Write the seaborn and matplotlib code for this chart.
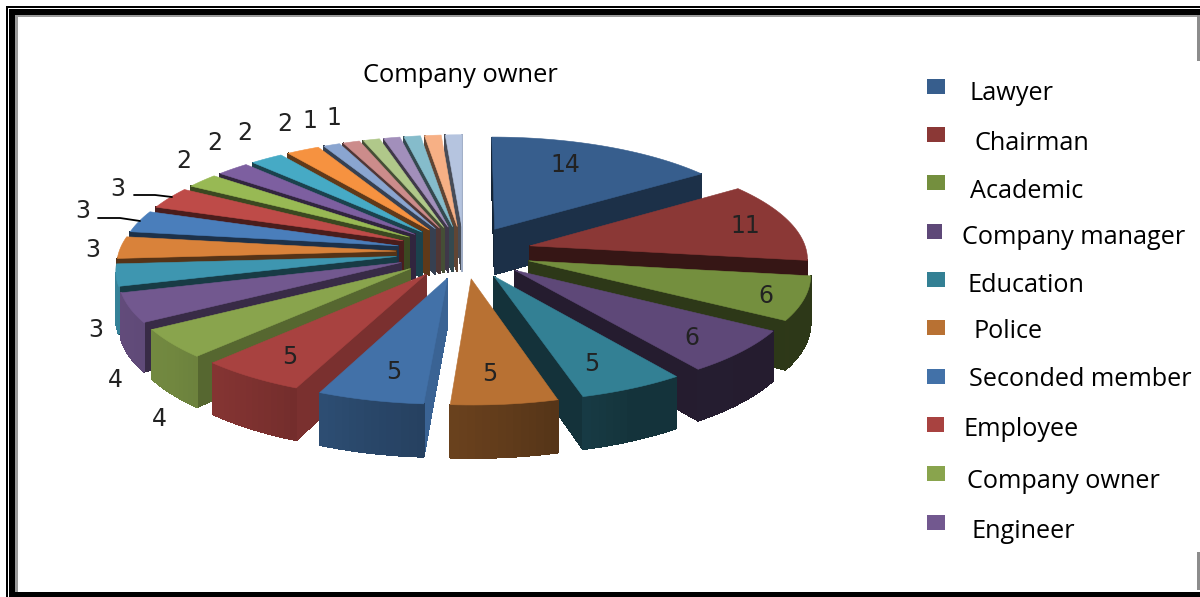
import numpy as np
import matplotlib
matplotlib.use("Agg")
import matplotlib.pyplot as plt
from matplotlib.patches import Polygon, Rectangle
import seaborn as sns

# Occupations of the respondents, clockwise from twelve o'clock
legend_names = ["Lawyer", "Chairman", "Academic", "Company manager", "Education",
                "Police", "Seconded member", "Employee", "Company owner", "Engineer"]
counts = [14, 11, 6, 6, 5, 5, 5, 5, 4, 4, 3, 3, 3, 3, 2, 2, 2, 2, 1, 1, 1, 1, 1, 1, 1]
slice_hex = ["#375e8d", "#8b3836", "#748f3e", "#5e4878", "#338094", "#b87133",
             "#4271a8", "#a84240", "#89a44d", "#72588f", "#3e96b0", "#d9823a",
             "#4a7ebb", "#be4b48", "#98b954", "#7d5fa0", "#46aac5", "#f69240",
             "#8aa5d0", "#cc8c8b", "#b0c88a", "#a28fbb", "#85bccb", "#f7b085", "#b5c4df"]
chart_title = "Company owner"
labelled_slices = 20

# Label anchors, in pixels
label_xy = [(565, 165), (745, 226), (766, 296), (692, 338), (592, 364), (490, 374),
            (394, 372), (290, 357), (159, 419), (115, 380), (96, 330), (93, 250),
            (83, 211), (118, 189), (184, 161), (215, 143), (245, 133), (285, 124),
            (310, 121), (334, 118)]
legend_box_y = [79, 127, 175, 224, 272, 320, 369, 417, 466, 515]
legend_box_w = [18, 18, 18, 15, 18, 18, 18, 17, 18, 18]
legend_text_x = [970, 974, 970, 962, 968, 974, 969, 964, 967, 972]
legend_text_y = [94, 143, 191, 237, 285, 331, 379, 429, 481, 531]

# Projection of the tilted pie onto the page
CX, CY = 464, 252
RX, RY = 277, 106.6
PERSP = 0.1066
EXPLODE = 0.246
HEIGHT = 46

sns.set_theme(style="white")
plt.rcParams["font.family"] = ["Open Sans", "DejaVu Sans"]
palette = sns.color_palette(slice_hex)

fig = plt.figure(figsize=(12, 5.97), dpi=100)
ax = fig.add_axes([0, 0, 1, 1])
ax.set_xlim(0, 1200)
ax.set_ylim(597, 0)
ax.axis("off")


def project(x, y, z=0.0):
    s = 1.0 / (1.0 + PERSP * y)
    return CX + x * RX * s, CY - y * RY * s + z * HEIGHT * s


def shade(color, factor):
    return tuple(c * factor for c in color)


def radial_factor(normal_deg):
    return np.interp(normal_deg % 360, [94, 113, 133, 145, 165, 360],
                     [0.88, 0.73, 0.63, 0.51, 0.39, 0.39])


def outer_factor(phi_deg):
    return np.interp(phi_deg % 360, [110, 155, 175, 195, 214, 230, 247, 290],
                     [0.39, 0.40, 0.53, 0.63, 0.75, 0.82, 0.85, 0.90])


def draw_side(p_a, p_b, color):
    """Draw the vertical quad between two rim points if it faces the viewer."""
    quad = [project(*p_a), project(*p_b), project(*p_b, 1), project(*p_a, 1)]
    xs, ys = zip(*quad)
    area = sum(xs[i] * ys[(i + 1) % 4] - xs[(i + 1) % 4] * ys[i] for i in range(4))
    if area < 0:
        ax.add_patch(Polygon(quad, closed=True, facecolor=color, edgecolor=color,
                             lw=0.6, antialiased=False))


values = np.array(counts, dtype=float)
edges = np.concatenate([[0], np.cumsum(values)]) / values.sum() * 360
mids = (edges[:-1] + edges[1:]) / 2

# Painter's order: slices at the back first
for i in np.argsort(-np.cos(np.radians(mids))):
    start, end, mid = edges[i], edges[i + 1], mids[i]
    ax_x = EXPLODE * np.sin(np.radians(mid))
    ax_y = EXPLODE * np.cos(np.radians(mid))
    apex = (ax_x, ax_y)
    phis = np.linspace(start, end, max(3, int((end - start) / 1.5) + 2))
    rim = [(ax_x + np.sin(np.radians(p)), ax_y + np.cos(np.radians(p))) for p in phis]
    base = palette[i]

    draw_side(apex, rim[0], shade(base, radial_factor(start - 90)))
    draw_side(rim[-1], apex, shade(base, radial_factor(end + 90)))
    for j in range(len(rim) - 1):
        mid_phi = (phis[j] + phis[j + 1]) / 2
        draw_side(rim[j], rim[j + 1], shade(base, outer_factor(mid_phi)))

    top = [project(*apex)] + [project(*p) for p in rim]
    ax.add_patch(Polygon(top, closed=True, facecolor=base, edgecolor=base, lw=0.4))

# Value labels
for value, (lx, ly) in zip(counts[:labelled_slices], label_xy):
    ax.text(lx, ly, str(value), ha="center", va="center", fontsize=17,
            color="#222222", family="DejaVu Sans")

# Leader lines for the two labels that sit away from their slices
ax.plot([98, 120, 140], [218, 218, 221], color="black", lw=1.3)
ax.plot([134, 155, 172], [195, 195, 197], color="black", lw=1.3)

ax.text(460, 76, chart_title, ha="center", va="center", fontsize=18.4, color="black")

# Legend
clip_box = Rectangle((900, 0), 300, 541, transform=ax.transData)
for k, name in enumerate(legend_names):
    ax.add_patch(Rectangle((927, legend_box_y[k]), legend_box_w[k], 15,
                           facecolor=palette[k], edgecolor="none"))
    t = ax.text(legend_text_x[k], legend_text_y[k], name, ha="left", va="center",
                fontsize=18.2, color="black")
    t.set_clip_path(clip_box)

# Decorative page border
for rect, color in [
    ((6, 6, 1194, 1.5), "black"), ((6, 6, 1.5, 591), "black"),
    ((9, 9, 1191, 6), "black"), ((9, 9, 6, 588), "black"),
    ((15, 15, 3, 577), "#9a9a9a"), ((15, 15, 1185, 1.5), "#9a9a9a"),
    ((15, 592, 1185, 5), "black"),
    ((1197, 15, 3, 46), "#8c8c8c"), ((1197, 552, 3, 38), "#8c8c8c"),
]:
    ax.add_patch(Rectangle(rect[:2], rect[2], rect[3], facecolor=color, edgecolor="none"))

fig.savefig("out.png", dpi=100)
